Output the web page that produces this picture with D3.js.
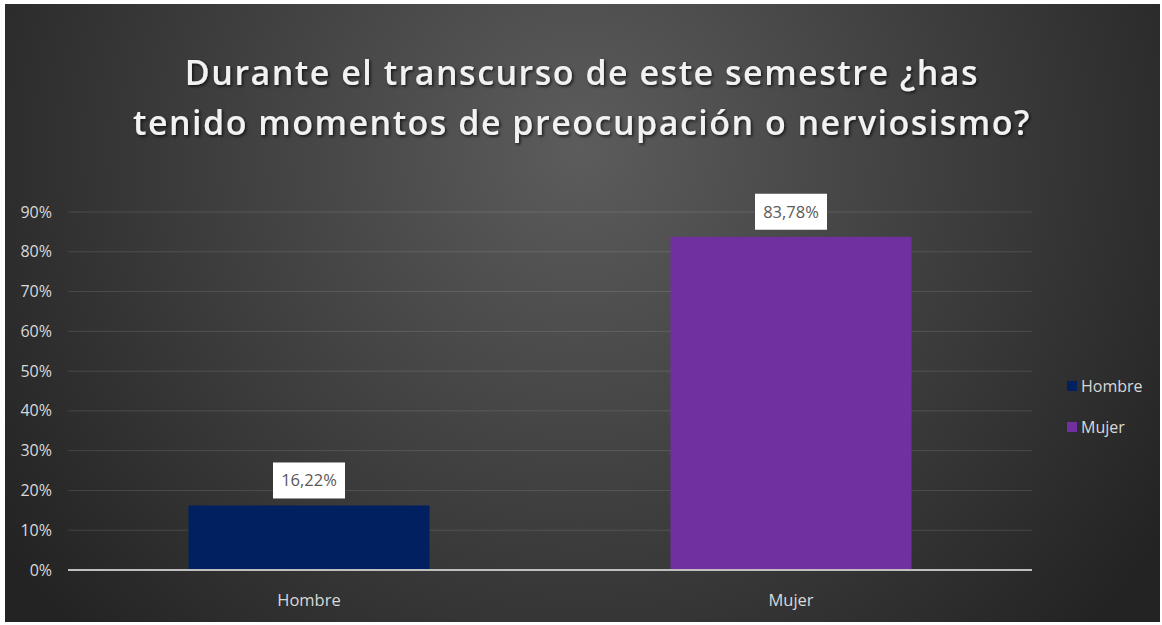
<html>
<head>
<script src="https://d3js.org/d3.v7.min.js"></script>
<style>
  body { margin: 0; background: #fff; }
  text { font-family: "Open Sans", "DejaVu Sans", sans-serif; }
</style>
</head>
<body>
<svg width="1162" height="625"></svg>
<script>
const categories = ['Hombre', 'Mujer'];
const values = [0.1622, 0.8378];
const labels = ['16,22%', '83,78%'];
const colors = ['#002060', '#7030a0'];
const ticks = [0, 0.1, 0.2, 0.3, 0.4, 0.5, 0.6, 0.7, 0.8, 0.9];
const titleLines = ['Durante el transcurso de este semestre ¿has',
                    'tenido momentos de preocupación o nerviosismo?'];

const svg = d3.select('svg');

// background
const defs = svg.append('defs');
const grad = defs.append('radialGradient').attr('id', 'bg')
  .attr('gradientUnits', 'userSpaceOnUse')
  .attr('cx', 580).attr('cy', 150).attr('r', 700);
grad.append('stop').attr('offset', '0%').attr('stop-color', '#5c5c5c');
grad.append('stop').attr('offset', '100%').attr('stop-color', '#232323');
const shadow = defs.append('filter').attr('id', 'sh').attr('x', '-5%').attr('y', '-20%')
  .attr('width', '110%').attr('height', '140%');
shadow.append('feDropShadow').attr('dx', 1.5).attr('dy', 1.5).attr('stdDeviation', 1.5)
  .attr('flood-color', '#000').attr('flood-opacity', 0.7);

svg.append('rect').attr('x', 5).attr('y', 4).attr('width', 1155).attr('height', 618)
  .attr('fill', 'url(#bg)');

// title
svg.append('g').selectAll('text').data(titleLines).join('text')
  .attr('x', 582).attr('y', (d, i) => 85 + i * 50)
  .attr('text-anchor', 'middle')
  .attr('fill', '#f2f2f2')
  .attr('font-size', 34).attr('font-weight', 600)
  .attr('letter-spacing', 1.5)
  .attr('filter', 'url(#sh)')
  .text(d => d);

const x = d3.scaleBand().domain(categories).range([68, 1032])
  .paddingInner(0.5).paddingOuter(0.25);
const y = d3.scaleLinear().domain([0, 0.9]).range([570, 212]);

// gridlines
svg.append('g').selectAll('line').data(ticks.slice(1)).join('line')
  .attr('x1', 68).attr('x2', 1032)
  .attr('y1', d => y(d)).attr('y2', d => y(d))
  .attr('stroke', '#ffffff').attr('stroke-opacity', 0.12).attr('stroke-width', 1);

// y tick labels
svg.append('g').selectAll('text').data(ticks).join('text')
  .attr('x', 52).attr('y', d => y(d) + 5.5)
  .attr('text-anchor', 'end')
  .attr('fill', '#d9d9d9').attr('font-size', 16)
  .text(d3.format('.0%'));

// bars
svg.append('g').selectAll('rect').data(categories).join('rect')
  .attr('x', d => x(d)).attr('width', x.bandwidth())
  .attr('y', (d, i) => y(values[i]))
  .attr('height', (d, i) => y(0) - y(values[i]))
  .attr('fill', (d, i) => colors[i]);

// baseline
svg.append('line').attr('x1', 68).attr('x2', 1032)
  .attr('y1', y(0)).attr('y2', y(0))
  .attr('stroke', '#bfbfbf').attr('stroke-width', 2);

// category labels
svg.append('g').selectAll('text').data(categories).join('text')
  .attr('x', d => x(d) + x.bandwidth() / 2).attr('y', 606)
  .attr('text-anchor', 'middle')
  .attr('fill', '#d9d9d9').attr('font-size', 16.5)
  .text(d => d);

// data labels
const dl = svg.append('g').selectAll('g').data(categories).join('g')
  .attr('transform', (d, i) => `translate(${x(d) + x.bandwidth() / 2},${y(values[i]) - 25})`);
dl.append('rect').attr('x', -36).attr('y', -18).attr('width', 72).attr('height', 36)
  .attr('fill', '#ffffff');
dl.append('text').attr('y', 6).attr('text-anchor', 'middle')
  .attr('fill', '#595959').attr('font-size', 16.5)
  .text((d, i) => labels[i]);

// legend
const lg = svg.append('g').selectAll('g').data(categories).join('g')
  .attr('transform', (d, i) => `translate(1067,${381 + i * 41})`);
lg.append('rect').attr('width', 10).attr('height', 10).attr('fill', (d, i) => colors[i]);
lg.append('text').attr('x', 14).attr('y', 11)
  .attr('fill', '#d9d9d9').attr('font-size', 16)
  .text(d => d);
</script>
</body>
</html>
